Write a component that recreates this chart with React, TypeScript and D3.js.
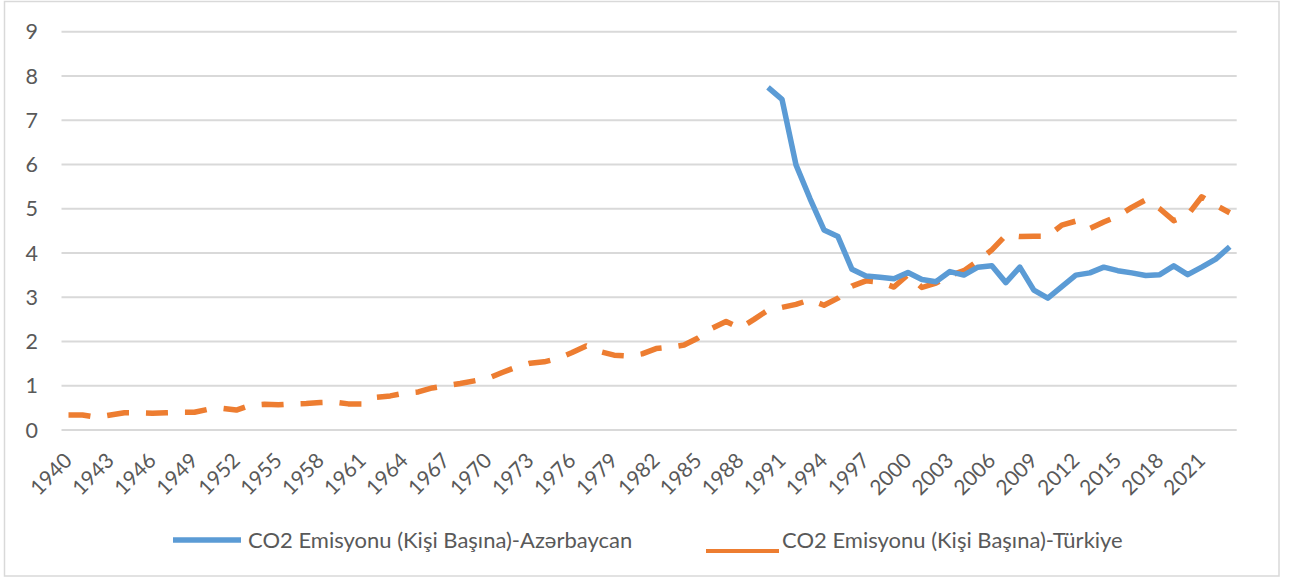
import React, { useMemo } from "react";
import * as d3 from "d3";

// categories: one per year
const years: number[] = d3.range(1940, 2024);

// CO2 per capita, Türkiye 1940-2023
const turkiye: number[] = [
  0.34, 0.34, 0.29, 0.34, 0.39, 0.39, 0.38, 0.39, 0.4, 0.4,
  0.47, 0.49, 0.45, 0.56, 0.58, 0.57, 0.59, 0.6, 0.62, 0.63,
  0.59, 0.59, 0.74, 0.77, 0.83, 0.86, 0.95, 1.0, 1.05, 1.11,
  1.17, 1.3, 1.42, 1.51, 1.54, 1.62, 1.75, 1.9, 1.77, 1.69,
  1.67, 1.72, 1.84, 1.87, 1.92, 2.08, 2.3, 2.45, 2.3, 2.5,
  2.71, 2.77, 2.84, 2.94, 2.82, 2.98, 3.25, 3.37, 3.34, 3.23,
  3.51, 3.22, 3.32, 3.49, 3.6, 3.82, 4.07, 4.4, 4.37, 4.38,
  4.38, 4.63, 4.72, 4.55, 4.7, 4.83, 5.03, 5.2, 5.0, 4.73,
  4.86, 5.27, 5.08, 4.91,
];

// CO2 per capita, Azərbaycan 1990-2023
const azStart = 1990;
const azerbaycan: number[] = [
  7.74, 7.47, 5.99, 5.23, 4.52, 4.37, 3.63, 3.48, 3.45, 3.42,
  3.56, 3.4, 3.35, 3.58, 3.5, 3.68, 3.71, 3.33, 3.68, 3.16,
  2.98, 3.24, 3.5, 3.55, 3.68, 3.6, 3.55, 3.49, 3.51, 3.71,
  3.51, 3.68, 3.86, 4.14,
];

const yTicks: number[] = [0, 1, 2, 3, 4, 5, 6, 7, 8, 9];
const xTickLabels: number[] = years.filter((y) => (y - 1940) % 3 === 0);

const seriesNames = [
  "CO2 Emisyonu (Kişi Başına)-Azərbaycan",
  "CO2 Emisyonu (Kişi Başına)-Türkiye",
];

const W = 1289;
const H = 578;
const FONT = "Lato, 'Open Sans', sans-serif";
const TEXT = "#595959";
const GRID = "#d9d9d9";
const BLUE = "#5b9bd5";
const ORANGE = "#ed7d31";

const App = () => {
  const x = useMemo(
    () =>
      d3
        .scaleBand<number>()
        .domain(years)
        .range([61.5, 1236.7])
        .padding(0),
    []
  );
  const y = useMemo(() => d3.scaleLinear().domain([0, 9]).range([430, 31.7]), []);

  const cx = (yr: number) => (x(yr) as number) + x.bandwidth() / 2;

  const line = d3
    .line<{ year: number; v: number }>()
    .x((d) => cx(d.year))
    .y((d) => y(d.v));

  const trData = turkiye.map((v, i) => ({ year: years[i], v }));
  const azData = azerbaycan.map((v, i) => ({ year: azStart + i, v }));

  return (
    <svg
      width={W}
      height={H}
      style={{ position: "absolute", left: 0, top: 0, background: "#fff" }}
      fontFamily={FONT}
    >
      <rect x={4.5} y={1.5} width={1274.5} height={574.5} fill="#fff" stroke={GRID} strokeWidth={1.5} />

      {/* gridlines + y labels */}
      {yTicks.map((t) => (
        <g key={t}>
          <line x1={61.5} x2={1236.7} y1={y(t)} y2={y(t)} stroke={GRID} strokeWidth={2} />
          <text x={38} y={y(t)} dy="0.36em" textAnchor="end" fontSize={21.5} fill={TEXT}>
            {t}
          </text>
        </g>
      ))}

      {/* x labels, rotated */}
      {xTickLabels.map((yr) => (
        <text
          key={yr}
          transform={`translate(${cx(yr) + 5},${462}) rotate(-45)`}
          textAnchor="end"
          fontSize={21}
          fill={TEXT}
        >
          {yr}
        </text>
      ))}

      <path d={line(trData) || ""} fill="none" stroke={ORANGE} strokeWidth={5.5} strokeDasharray="22 17" strokeLinejoin="round" />
      <path d={line(azData) || ""} fill="none" stroke={BLUE} strokeWidth={5.5} strokeLinejoin="round" />

      {/* legend */}
      <line x1={173} x2={241} y1={540} y2={540} stroke={BLUE} strokeWidth={5.5} />
      <text x={248} y={548} fontSize={22} fill={TEXT}>
        {seriesNames[0]}
      </text>
      <line x1={706} x2={779} y1={551} y2={551} stroke={ORANGE} strokeWidth={4} />
      <text x={782} y={548} fontSize={22} fill={TEXT}>
        {seriesNames[1]}
      </text>
    </svg>
  );
};

export default App;
